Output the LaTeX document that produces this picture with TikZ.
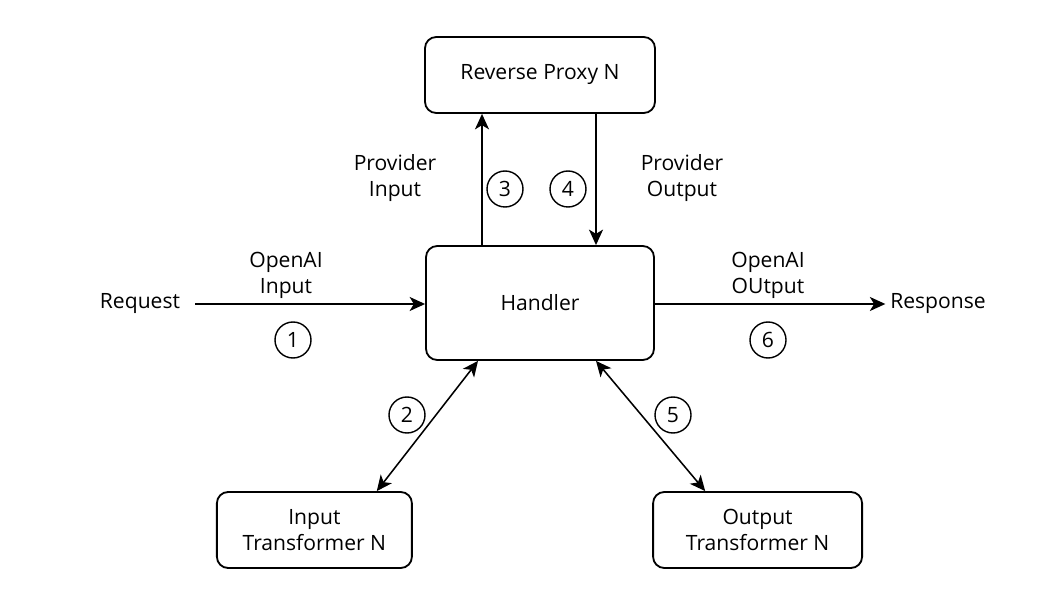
\documentclass[tikz,border=0pt]{standalone}
\usepackage{fontspec}
\setmainfont{Open Sans}
\usetikzlibrary{arrows.meta}

\begin{document}
\begin{tikzpicture}[->,>={Stealth[length=11pt,width=10pt,inset=3pt]}, font=\fontsize{15}{18.5}\selectfont,
  box/.style={rectangle, rounded corners=0.28cm, draw=black, line width=1.3pt, align=center},
  num/.style={circle, draw=black, line width=1pt, minimum size=0.9cm, inner sep=0pt},
  lbl/.style={align=center},
  link/.style={line width=1.1pt}]
\useasboundingbox (0,0) rectangle (26.35,-14.85);

\node[box, minimum width=5.75cm, minimum height=1.9cm] (proxy) at (13.5,-1.875) {Reverse Proxy N};
\node[box, minimum width=5.7cm, minimum height=2.85cm] (handler) at (13.5,-7.575) {Handler};
\node[box, minimum width=4.875cm, minimum height=1.9cm] (intrans) at (7.86,-13.25) {Input\\Transformer N};
\node[box, minimum width=5.225cm, minimum height=1.9cm] (outtrans) at (18.94,-13.25) {Output\\Transformer N};

\node[lbl] (request) at (3.5,-7.6) {Request};
\node[lbl] (response) at (23.45,-7.6) {Response};

\node[lbl] (oainput) at (7.15,-6.875) {OpenAI\\Input};
\node[lbl] (provinput) at (9.875,-4.45) {Provider\\Input};
\node[lbl] (provoutput) at (17.05,-4.45) {Provider\\Output};
\node[lbl] (oaoutput) at (19.2,-6.875) {OpenAI\\OUtput};

\node[num] (n1) at (7.325,-8.5) {1};
\node[num] (n2) at (10.175,-10.375) {2};
\node[num] (n3) at (12.625,-4.725) {3};
\node[num] (n4) at (14.2,-4.725) {4};
\node[num] (n5) at (16.825,-10.375) {5};
\node[num] (n6) at (19.2,-8.5) {6};

\draw[link, shorten <=0.25cm] (request.east) -- (request.east -| handler.west);
\draw[link] (handler.east |- response.west) -- (response.west);
\draw[link] ([xshift=-1.45cm]handler.north) -- ([xshift=-1.45cm]proxy.south);
\draw[link] ([xshift=1.4cm]proxy.south) -- ([xshift=1.4cm]handler.north);
\draw[link, <->] ([xshift=-1.55cm]handler.south) -- ([xshift=1.56cm]intrans.north);
\draw[link, <->] ([xshift=1.4cm]handler.south) -- ([xshift=-1.31cm]outtrans.north);
\end{tikzpicture}
\end{document}
